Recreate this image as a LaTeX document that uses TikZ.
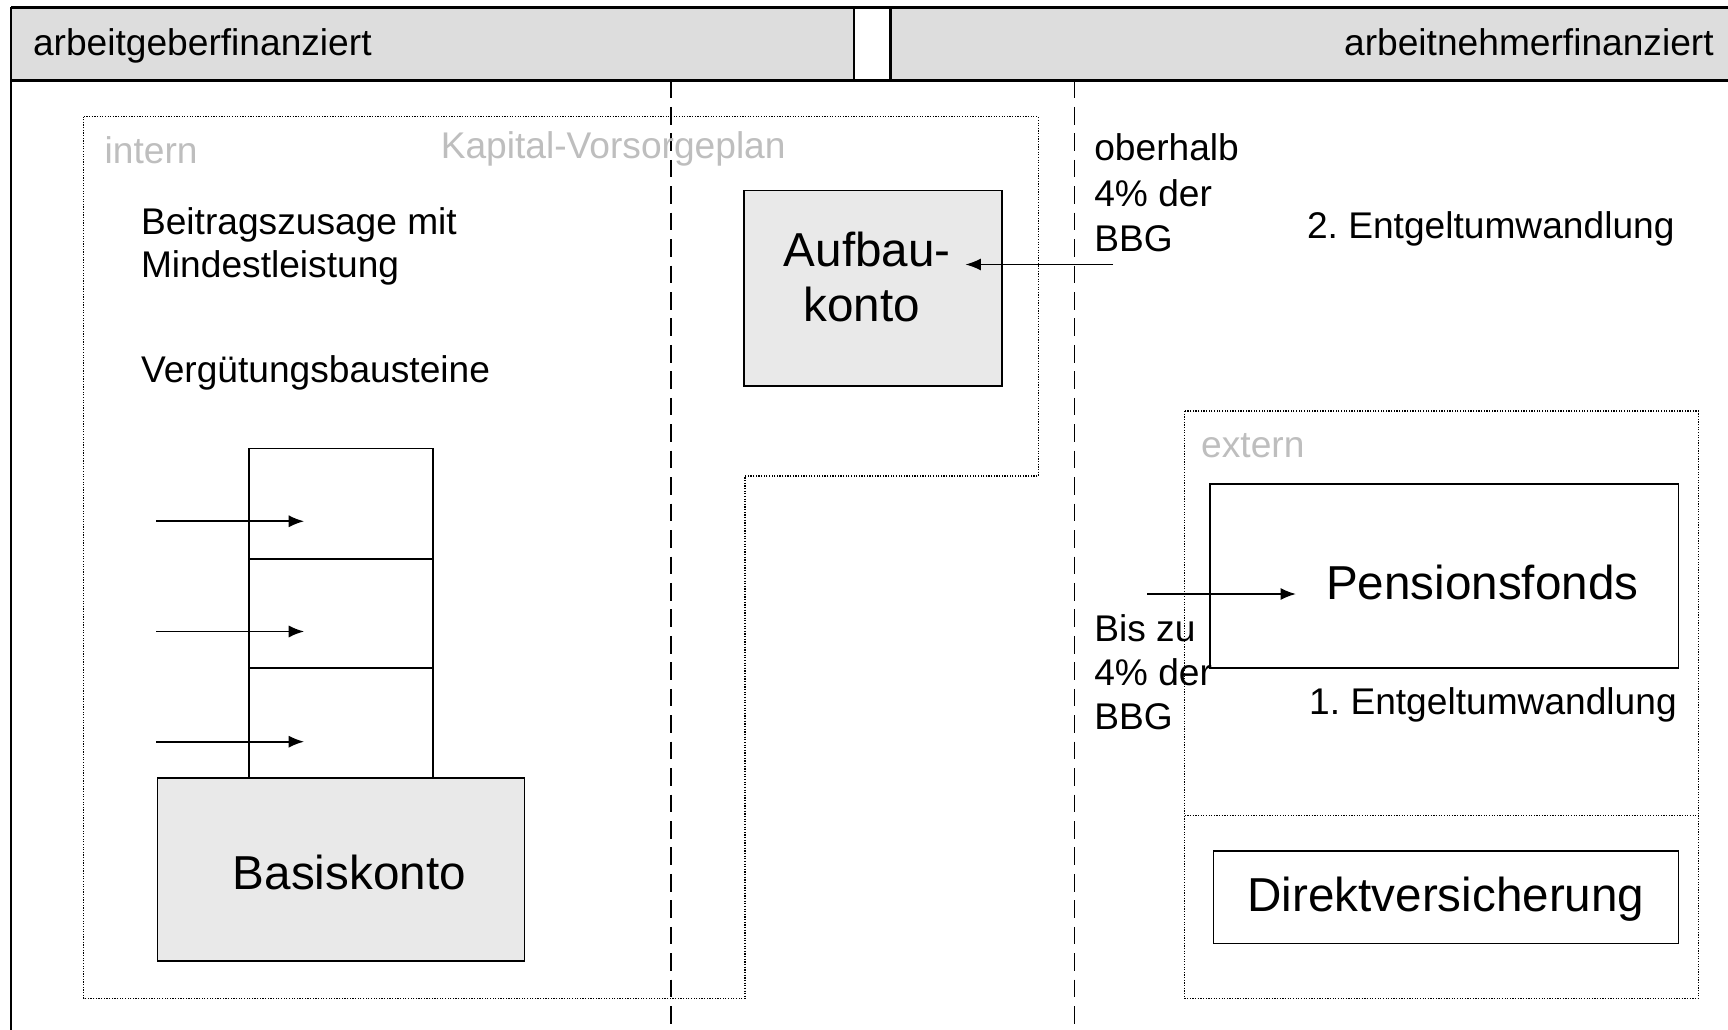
\documentclass[tikz,border=0pt]{standalone}
\usepackage{fontspec}
\setmainfont{Liberation Sans}
\usetikzlibrary{arrows.meta}
\definecolor{hdr}{HTML}{DDDDDD}
\definecolor{boxfill}{HTML}{E9E9E9}
\definecolor{lbl}{HTML}{BEBEBE}
\frenchspacing
\begin{document}
\begin{tikzpicture}[x=1pt,y=-1pt,
  small/.style={font=\fontsize{33.7}{40}\selectfont, inner sep=0pt, outer sep=0pt},
  big/.style={font=\fontsize{43.2}{50}\selectfont, inner sep=0pt, outer sep=0pt},
  grey/.style={text=lbl},
  hdrbox/.style={draw, line width=2pt, fill=hdr, inner sep=0pt, outer sep=0pt, anchor=north west},
  shadedbox/.style={draw, line width=1.5pt, fill=boxfill, inner sep=0pt, outer sep=0pt, anchor=north west},
  plainbox/.style={draw, line width=1.5pt, fill=white, inner sep=0pt, outer sep=0pt, anchor=north west},
  dots/.style={line width=1.1pt, dash pattern=on 1.1pt off 1.3pt},
  dashline/.style={line width=1.5pt, dash pattern=on 16pt off 8pt},
  arr/.style={line width=1.7pt, -{Latex[length=14pt,width=11pt]}}]
\useasboundingbox (0,0) rectangle (1568,934.6);
\fill[white] (0,0) rectangle (1568,934.6);

% header
\node[hdrbox, minimum width=765, minimum height=66] (hl) at (10,7) {};
\node[hdrbox, fill=white, minimum width=33, minimum height=66] (hg) at (775,7) {};
\node[hdrbox, minimum width=780, minimum height=66] (hr) at (808,7) {};
\draw[line width=3pt] (hl.north west) -- (hr.north east);
\node[small, anchor=base west] (thl) at (30,50) {arbeitgeberfinanziert};
\node[small, anchor=base east] (thr) at (1555,50) {arbeitnehmerfinanziert};

% outer left frame
\coordinate (fb) at (10,940);
\draw[line width=2pt] (hl.south west) -- (fb);

% dotted regions
\draw[dots] (76,106) -- (942,106) -- (942,432) -- (676,432) -- (676,906) -- (76,906) -- cycle;
\draw[dots] (1075,373) rectangle (1541,906);
\draw[dots] (1075,740) -- (1541,740);

% dashed dividers
\coordinate (d1t) at (609,73);
\coordinate (d1b) at (609,940);
\coordinate (d2t) at (975,73);
\coordinate (d2b) at (975,940);
\draw[dashline] (d1t) -- (d1b);
\draw[dashline] (d2t) -- (d2b);

% labels left
\node[small, grey, anchor=base west] (tint) at (95,148) {intern};
\node[small, grey, anchor=base west] (tkap) at (400,144) {Kapital-Vorsorgeplan};
\node[small, anchor=base west] (tb1) at (128,213) {Beitragszusage mit};
\node[small, anchor=base west] (tb2) at (128,252) {Mindestleistung};
\node[small, anchor=base west] (tverg) at (128,347) {Vergütungsbausteine};

% stack
\node[plainbox, minimum width=167, minimum height=100] (s1) at (226,407) {};
\node[plainbox, minimum width=167, minimum height=99] (s2) at (226,507) {};
\node[plainbox, minimum width=167, minimum height=100] (s3) at (226,606) {};
\node[shadedbox, minimum width=333, minimum height=166] (basis) at (143,706) {};
\node[big, anchor=base] (tbasis) at (317,807) {Basiskonto};

\coordinate (a1s) at (142,473); \coordinate (a1e) at (276,473);
\coordinate (a2s) at (142,573); \coordinate (a2e) at (276,573);
\coordinate (a3s) at (142,673); \coordinate (a3e) at (276,673);
\draw[arr] (a1s) -- (a1e);
\draw[arr] (a2s) -- (a2e);
\draw[arr] (a3s) -- (a3e);

% Aufbaukonto
\node[shadedbox, minimum width=234, minimum height=177] (aufbau) at (675,173) {};
\node[big, anchor=base] (tauf1) at (787,242) {Aufbau-};
\node[big, anchor=base] (tauf2) at (782,292) {konto};
\coordinate (b1s) at (1010,240); \coordinate (b1e) at (876,240);
\draw[arr] (b1s) -- (b1e);

% right labels
\node[small, anchor=base west] (to1) at (993,146) {oberhalb};
\node[small, anchor=base west] (to2) at (993,187) {4\% der};
\node[small, anchor=base west] (to3) at (993,228) {BBG};
\node[small, anchor=base west] (tent2) at (1186,216) {2. Entgeltumwandlung};

% extern
\node[small, grey, anchor=base west] (text) at (1090,415) {extern};
\node[plainbox, minimum width=425, minimum height=167] (pens) at (1098,439) {};
\node[big, anchor=base] (tpens) at (1345,544) {Pensionsfonds};
\coordinate (c1s) at (1041,539); \coordinate (c1e) at (1176,539);
\draw[arr] (c1s) -- (c1e);
\node[small, anchor=base west] (tbis1) at (993,582) {Bis zu};
\node[small, anchor=base west] (tbis2) at (993,622) {4\% der};
\node[small, anchor=base west] (tbis3) at (993,662) {BBG};
\node[small, anchor=base west] (tent1) at (1188,648) {1. Entgeltumwandlung};
\node[plainbox, minimum width=422, minimum height=84] (direkt) at (1101,772) {};
\node[big, anchor=base] (tdirekt) at (1312,827) {Direktversicherung};
\end{tikzpicture}
\end{document}
